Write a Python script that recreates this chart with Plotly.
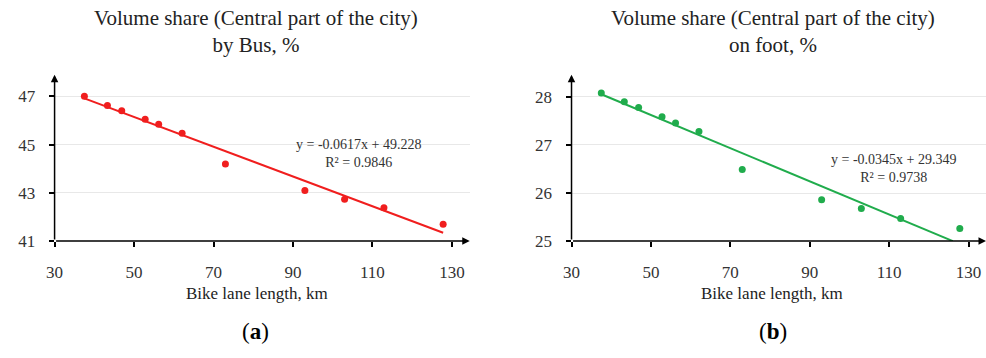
import plotly.graph_objects as go

# Data
bike_km = [37.5, 43.3, 46.9, 52.8, 56.2, 62.1, 73.0, 93.0, 103.0, 112.9, 127.8]
bus_share = [47.00, 46.62, 46.40, 46.05, 45.84, 45.47, 44.19, 43.10, 42.73, 42.38, 41.70]
foot_share = [28.08, 27.90, 27.78, 27.59, 27.46, 27.28, 26.49, 25.86, 25.68, 25.47, 25.26]

bus_slope, bus_icpt, bus_r2 = -0.0617, 49.228, 0.9846
foot_slope, foot_icpt, foot_r2 = -0.0345, 29.349, 0.9738

bus_fit_x = [37.5, 127.8]
foot_fit_x = [37.5, 126.06]

x_ticks = [30, 50, 70, 90, 110, 130]
bus_ticks = [41, 43, 45, 47]
foot_ticks = [25, 26, 27, 28]

RED = "#f01e1e"
GREEN = "#20ac4c"
FONT = "Liberation Serif"

fig = go.Figure()

fig.add_trace(go.Scatter(x=bus_fit_x, y=[bus_slope * v + bus_icpt for v in bus_fit_x],
                         mode="lines", line=dict(color=RED, width=2), xaxis="x", yaxis="y",
                         showlegend=False, hoverinfo="skip"))
fig.add_trace(go.Scatter(x=bike_km, y=bus_share, mode="markers",
                         marker=dict(color=RED, size=7), xaxis="x", yaxis="y", showlegend=False))
fig.add_trace(go.Scatter(x=foot_fit_x, y=[foot_slope * v + foot_icpt for v in foot_fit_x],
                         mode="lines", line=dict(color=GREEN, width=2), xaxis="x2", yaxis="y2",
                         showlegend=False, hoverinfo="skip"))
fig.add_trace(go.Scatter(x=bike_km, y=foot_share, mode="markers",
                         marker=dict(color=GREEN, size=7), xaxis="x2", yaxis="y2", showlegend=False))

ydom = [1 - 248 / 358, 1 - 77 / 358]
tickfont = dict(family=FONT, size=17, color="#333")

def xaxis(dom, anchor, rmax):
    return dict(domain=dom, range=[30, rmax], tickvals=x_ticks, ticks="outside", ticklen=5,
                tickwidth=1.5, tickcolor="black", showgrid=False, zeroline=False, showline=False,
                tickfont=tickfont, ticklabelstandoff=11, anchor=anchor)

def yaxis(dom, rng, tv, anchor):
    return dict(domain=dom, range=rng, tickvals=tv, ticks="outside", ticklen=5, tickwidth=1.5,
                tickcolor="black", showgrid=True, gridcolor="#e8e8e8", gridwidth=1,
                zeroline=False, showline=False, tickfont=tickfont, anchor=anchor,
                ticklabelstandoff=10)

fig.update_layout(
    width=986, height=358, margin=dict(l=0, r=0, t=0, b=0),
    plot_bgcolor="white", paper_bgcolor="white",
    xaxis=xaxis([46 / 986, 465 / 986], "y", 134.5),
    yaxis=yaxis(ydom, [41, 47.89], bus_ticks, "x"),
    xaxis2=xaxis([567.7 / 986, 986 / 986], "y2", 134.4),
    yaxis2=yaxis(ydom, [25, 28.46], foot_ticks, "x2"),
)

ann = []
# axis arrows
for xr, yr, y0, y1, xmax in [("x", "y", 41, 47.89, 134.5), ("x2", "y2", 25, 28.46, 134.4)]:
    ann.append(dict(x=xmax, y=y0, ax=30, ay=y0, xref=xr, yref=yr, axref=xr, ayref=yr,
                    showarrow=True, arrowhead=2, arrowsize=1, arrowwidth=1.5, arrowcolor="black",
                    text=""))
    ann.append(dict(x=30, y=y1, ax=30, ay=y0, xref=xr, yref=yr, axref=xr, ayref=yr,
                    showarrow=True, arrowhead=2, arrowsize=1, arrowwidth=1.5, arrowcolor="black",
                    text=""))

titles = [(249, "Volume share (Central part of the city)<br>by Bus, %"),
          (771, "Volume share (Central part of the city)<br>on foot, %")]
for cx, t in titles:
    ann.append(dict(x=cx / 986, y=1 - 32 / 358, xref="paper", yref="paper", text=t,
                    showarrow=False, font=dict(family=FONT, size=21, color="#222"),
                    xanchor="center", yanchor="middle"))

for cx in [250, 770]:
    ann.append(dict(x=cx / 986, y=1 - 302 / 358, xref="paper", yref="paper",
                    text="Bike lane length, km", showarrow=False,
                    font=dict(family=FONT, size=17, color="#222"), xanchor="center", yanchor="middle"))

for cx, lab in [(249, "a"), (771, "b")]:
    ann.append(dict(x=cx / 986, y=1 - 341 / 358, xref="paper", yref="paper",
                    text=f"(<b>{lab}</b>)", showarrow=False,
                    font=dict(family=FONT, size=23, color="black"), xanchor="center", yanchor="middle"))

eqs = [(353, 149, f"y = {bus_slope}x + {bus_icpt}<br>R² = {bus_r2}"),
       (893, 164, f"y = {foot_slope}x + {foot_icpt}<br>R² = {foot_r2}")]
for cx, cy, t in eqs:
    ann.append(dict(x=cx / 986, y=1 - (cy + 9) / 358, xref="paper", yref="paper", text=t,
                    showarrow=False, font=dict(family=FONT, size=14, color="#333"),
                    xanchor="center", yanchor="middle"))

fig.update_layout(annotations=ann)
fig.write_html("out.html")
